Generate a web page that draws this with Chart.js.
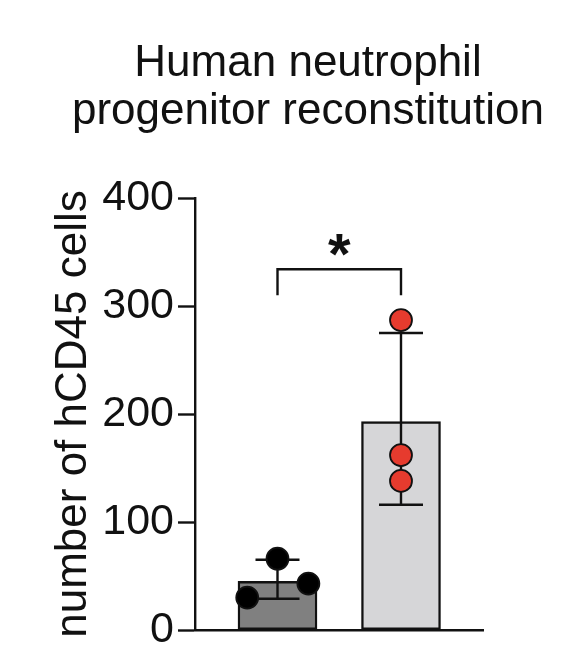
<!DOCTYPE html>
<html>
<head>
<meta charset="utf-8">
<script src="https://cdn.jsdelivr.net/npm/chart.js@4.4.1/dist/chart.umd.min.js"></script>
<style>
  html, body { margin: 0; padding: 0; background: #fff; }
  canvas { display: block; }
</style>
</head>
<body>
<canvas id="chart" width="576" height="652"></canvas>
<script>
const titleLines = ["Human neutrophil", "progenitor reconstitution"];
const yLabel = "number of hCD45 cells";
const groups = [0, 1];
const barMeans = [45, 193];
const errLow = [29, 116];
const errHigh = [65, 275];
const dotsA = [66, 43, 30];
const dotsB = [287, 162, 138];
const yTicks = [0, 100, 200, 300, 400];
const sigMark = "*";
const sigLevel = 334;   // bracket top
const sigFoot = 310;    // bracket ends

const INK = "#111";
Chart.defaults.font.family = '"Liberation Sans", Arial, Helvetica, sans-serif';
Chart.defaults.color = INK;

// jitter of the black dots around their bar
const jitterA = [0, 0.25, -0.245];

const errorBars = {
  id: "errorBars",
  afterDatasetDraw(chart, args) {
    if (args.index !== 0) return;
    const { ctx, scales: { x, y } } = chart;
    ctx.save();
    ctx.strokeStyle = INK;
    ctx.lineWidth = 2.4;
    groups.forEach((g, i) => {
      const px = x.getPixelForValue(g);
      const top = y.getPixelForValue(errHigh[i]);
      const bot = y.getPixelForValue(errLow[i]);
      ctx.beginPath();
      ctx.moveTo(px, top); ctx.lineTo(px, bot);
      ctx.moveTo(px - 22, top); ctx.lineTo(px + 22, top);
      ctx.moveTo(px - 22, bot); ctx.lineTo(px + 22, bot);
      ctx.stroke();
    });
    ctx.restore();
  }
};

const bracket = {
  id: "bracket",
  afterDatasetsDraw(chart) {
    const { ctx, scales: { x, y } } = chart;
    const x0 = x.getPixelForValue(groups[0]);
    const x1 = x.getPixelForValue(groups[1]);
    const top = y.getPixelForValue(sigLevel);
    const foot = y.getPixelForValue(sigFoot);
    ctx.save();
    ctx.strokeStyle = INK;
    ctx.lineWidth = 2.4;
    ctx.beginPath();
    ctx.moveTo(x0, foot); ctx.lineTo(x0, top); ctx.lineTo(x1, top); ctx.lineTo(x1, foot);
    ctx.stroke();
    ctx.fillStyle = INK;
    ctx.font = 'bold 58px "Liberation Sans", Arial, sans-serif';
    ctx.textAlign = "center";
    ctx.textBaseline = "alphabetic";
    ctx.fillText(sigMark, (x0 + x1) / 2, top + 5);
    ctx.restore();
  }
};

const titleText = {
  id: "titleText",
  afterDraw(chart) {
    const { ctx } = chart;
    ctx.save();
    ctx.fillStyle = INK;
    ctx.font = '44px "Liberation Sans", Arial, sans-serif';
    ctx.textAlign = "center";
    ctx.textBaseline = "alphabetic";
    titleLines.forEach((t, i) => ctx.fillText(t, 308, 76 + i * 48));
    ctx.restore();
  }
};

new Chart(document.getElementById("chart"), {
  type: "bar",
  data: {
    datasets: [
      {
        type: "bar",
        data: groups.map((g, i) => ({ x: g, y: barMeans[i] })),
        backgroundColor: ["#808080", "#d6d6d8"],
        borderColor: INK,
        borderWidth: 2.4,
        borderSkipped: false,
        barThickness: 79,
        order: 2
      },
      {
        type: "scatter",
        data: dotsA.map((v, i) => ({ x: groups[0] + jitterA[i], y: v })),
        backgroundColor: "#000",
        borderColor: INK,
        borderWidth: 1.8,
        pointRadius: 11,
        order: 1
      },
      {
        type: "scatter",
        data: dotsB.map(v => ({ x: groups[1], y: v })),
        backgroundColor: "#e63b2e",
        borderColor: INK,
        borderWidth: 1.8,
        pointRadius: 11,
        order: 1
      }
    ]
  },
  options: {
    responsive: false,
    animation: false,
    layout: { padding: { top: 198, right: 93, bottom: 22, left: 0 } },
    plugins: { legend: { display: false }, tooltip: { enabled: false }, title: { display: false } },
    scales: {
      x: {
        type: "linear",
        offset: false,
        min: -0.668,
        max: 1.664,
        ticks: { display: false },
        grid: { display: false, offset: false },
        border: { display: true, color: INK, width: 2.4 },
        afterFit(s) { s.height = 0; }
      },
      y: {
        min: 0,
        max: 400,
        afterBuildTicks(s) { s.ticks = yTicks.map(v => ({ value: v })); },
        ticks: { font: { size: 43 }, color: INK, padding: 4 },
        grid: { drawOnChartArea: false, drawTicks: true, tickLength: 17, tickWidth: 2.4, tickColor: INK },
        border: { color: INK, width: 2.4 },
        title: { display: true, text: yLabel, font: { size: 44 }, color: INK, padding: { top: 47, bottom: 0 } },
        afterFit(s) { s.width = 195; s.paddingTop = 0; s.paddingBottom = 0; }
      }
    }
  },
  plugins: [errorBars, bracket, titleText]
});
</script>
</body>
</html>
